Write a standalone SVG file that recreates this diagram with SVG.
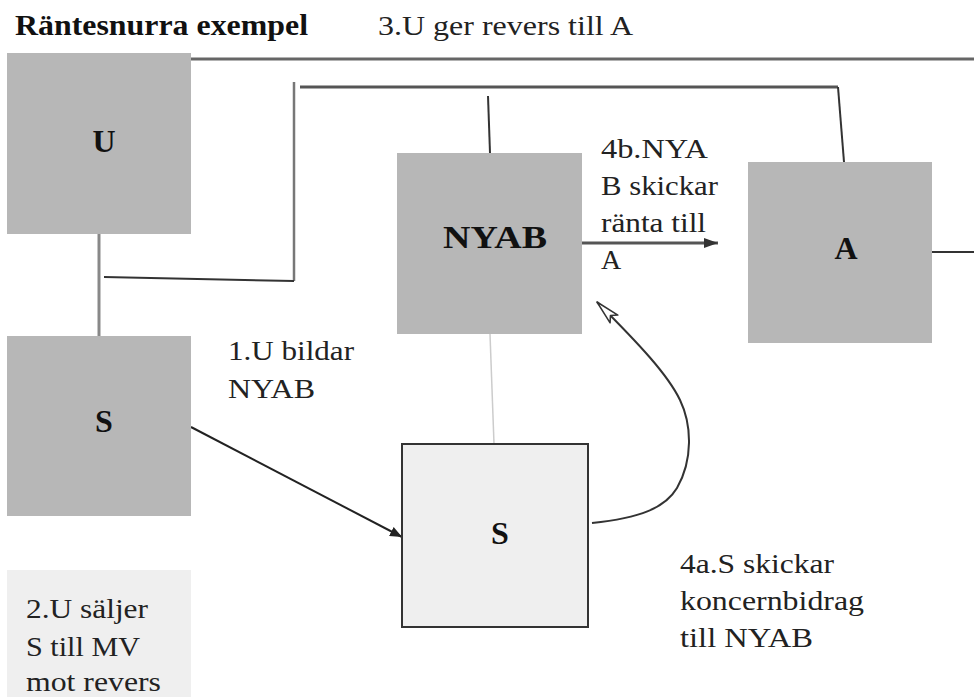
<svg xmlns="http://www.w3.org/2000/svg" width="974" height="697" viewBox="0 0 974 697">
<style>
.box{fill:#b7b7b7}
.lbl{font-weight:bold;font-size:32px;fill:#111;text-anchor:middle}
.txt{font-size:28px;fill:#222}
.ttl{font-weight:bold;font-size:29px;fill:#111}
.ln{fill:none;stroke:#333;stroke-width:2}
.lg{fill:none;stroke:#666;stroke-width:3}
</style>
<defs>
<marker id="ah" viewBox="0 0 12 10" refX="12" refY="5" markerWidth="12" markerHeight="10" markerUnits="userSpaceOnUse" orient="auto">
<path d="M0,0 L12,5 L0,10 z" fill="#222"/>
</marker>
<marker id="ah2" viewBox="0 0 14 10" refX="14" refY="5" markerWidth="14" markerHeight="10" markerUnits="userSpaceOnUse" orient="auto">
<path d="M0,0 L14,5 L0,10 z" fill="#333"/>
</marker>
<marker id="open" viewBox="0 0 26 14" refX="25" refY="7" markerWidth="26" markerHeight="14" markerUnits="userSpaceOnUse" orient="auto">
<path d="M1,1.5 L25,7 L1,12.5 L6,7 z" fill="#fff" stroke="#333" stroke-width="1.5" stroke-linejoin="round"/>
</marker>
</defs>
<rect width="974" height="697" fill="#fff"/>

<g font-family="Liberation Serif, DejaVu Serif, serif">
<text class="ttl" x="15" y="35" textLength="293" lengthAdjust="spacingAndGlyphs">Räntesnurra exempel</text>
<text class="txt" x="378" y="35" textLength="255" lengthAdjust="spacingAndGlyphs">3.U ger revers till A</text>

<g id="connectors">
<path class="lg" d="M191,59 L974,59"/>
<path fill="none" stroke="#888" stroke-width="3" d="M99,234 L99,336"/>
<path fill="none" stroke="#777" stroke-width="2.5" d="M294,82 L294,281"/>
<path class="ln" d="M104,277 L294,281"/>
<path fill="none" stroke="#555" stroke-width="3" d="M300,87 L838,87"/>
<path class="ln" d="M838,87 L844,162"/>
<path class="ln" d="M488,96 L490,153"/>
<path fill="none" stroke="#ccc" stroke-width="1.5" d="M490,334 L494,444"/>
<path class="ln" d="M932,252 L974,252"/>
<path fill="none" stroke="#555" stroke-width="3" d="M582,243 L718,243" marker-end="url(#ah2)"/>
<path fill="none" stroke="#222" stroke-width="2" d="M191,427 L402,537" marker-end="url(#ah)"/>
<path fill="none" stroke="#333" stroke-width="2" d="M592,523 C640,518 665,508 677,488 C693,460 692,425 680,400 C668,375 640,345 597,302" marker-end="url(#open)"/>
</g>

<g id="node-U">
<rect class="box" x="7" y="53" width="184" height="181"/>
<text class="lbl" x="104" y="152">U</text>
</g>
<g id="node-S1">
<rect class="box" x="7" y="336" width="184" height="180"/>
<text class="lbl" x="104" y="432">S</text>
</g>
<g id="node-NYAB">
<rect class="box" x="397" y="153" width="185" height="181"/>
<text class="lbl" x="495" y="248" textLength="104" lengthAdjust="spacingAndGlyphs">NYAB</text>
</g>
<g id="node-A">
<rect class="box" x="748" y="162" width="184" height="181"/>
<text class="lbl" x="846" y="259">A</text>
</g>
<g id="node-S2">
<rect x="402" y="444" width="186" height="183" fill="#efefef" stroke="#333" stroke-width="2"/>
<text class="lbl" x="500" y="544">S</text>
</g>
<g id="note-2">
<rect x="7" y="570" width="184" height="127" fill="#efefef"/>
<text class="txt" x="26" y="618" textLength="122" lengthAdjust="spacingAndGlyphs">2.U säljer</text>
<text class="txt" x="26" y="656" textLength="114" lengthAdjust="spacingAndGlyphs">S till MV</text>
<text class="txt" x="26" y="691" textLength="135" lengthAdjust="spacingAndGlyphs">mot revers</text>
</g>

<g id="label-1">
<text class="txt" x="228" y="360" textLength="126" lengthAdjust="spacingAndGlyphs">1.U bildar</text>
<text class="txt" x="228" y="398" textLength="87" lengthAdjust="spacingAndGlyphs">NYAB</text>
</g>
<g id="label-4b">
<text class="txt" x="601" y="158" textLength="107" lengthAdjust="spacingAndGlyphs">4b.NYA</text>
<text class="txt" x="601" y="195" textLength="117" lengthAdjust="spacingAndGlyphs">B skickar</text>
<text class="txt" x="601" y="232" textLength="105" lengthAdjust="spacingAndGlyphs">ränta till</text>
<text class="txt" x="601" y="269">A</text>
</g>
<g id="label-4a">
<text class="txt" x="680" y="573" textLength="154" lengthAdjust="spacingAndGlyphs">4a.S skickar</text>
<text class="txt" x="680" y="610" textLength="184" lengthAdjust="spacingAndGlyphs">koncernbidrag</text>
<text class="txt" x="680" y="647" textLength="133" lengthAdjust="spacingAndGlyphs">till NYAB</text>
</g>
</g>
</svg>
